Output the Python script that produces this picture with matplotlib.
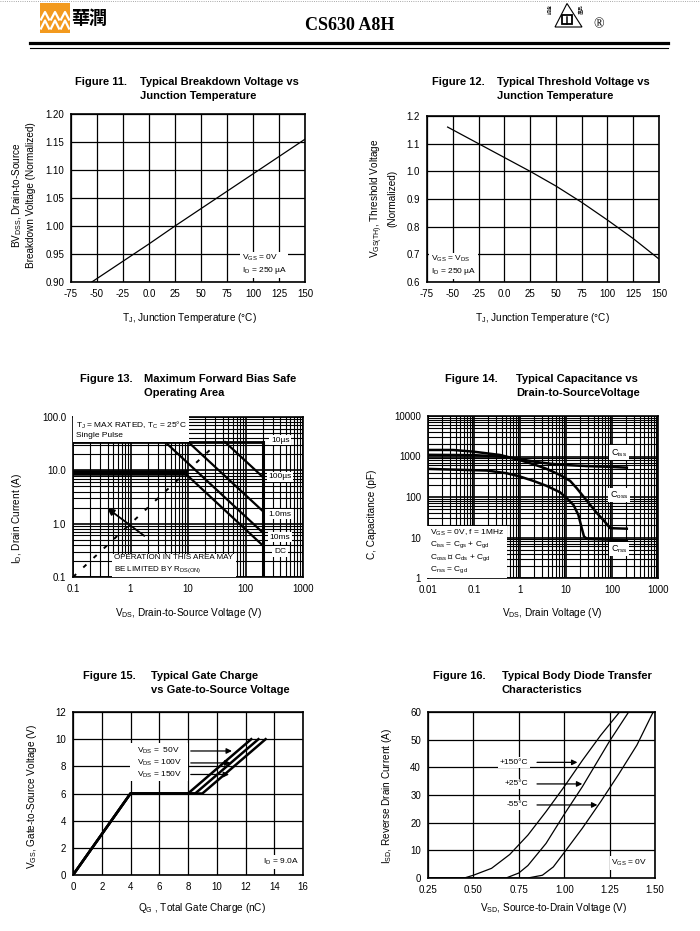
import matplotlib.pyplot as plt
from matplotlib.patches import Rectangle, Polygon
from matplotlib.ticker import NullFormatter
import numpy as np

plt.rcParams['font.family'] = ['Liberation Sans', 'DejaVu Sans']
plt.rcParams['mathtext.fontset'] = 'custom'
plt.rcParams['mathtext.rm'] = 'Liberation Sans'
plt.rcParams['mathtext.it'] = 'Liberation Sans:italic'
plt.rcParams['mathtext.bf'] = 'Liberation Sans:bold'

# ---------------- data ----------------
temp_ticks = [-75, -50, -25, 0, 25, 50, 75, 100, 125, 150]
temp_labels = ['-75', '-50', '-25', '0.0', '25', '50', '75', '100', '125', '150']

# Fig 11 - breakdown voltage
bv_t = [-55, 0, 25, 50, 75, 100, 125, 150]
bv_val = [0.900, 0.968, 1.000, 1.031, 1.062, 1.093, 1.124, 1.155]
bv_ticks = [0.90, 0.95, 1.00, 1.05, 1.10, 1.15, 1.20]

# Fig 12 - threshold voltage
vth_t = [-55, -25, 0, 25, 50, 75, 100, 125, 150]
vth_val = [1.16, 1.10, 1.05, 1.00, 0.947, 0.888, 0.824, 0.757, 0.683]
vth_ticks = [0.6, 0.7, 0.8, 0.9, 1.0, 1.1, 1.2]

# Fig 13 - SOA
soa_imax = 34
soa_vmax = 200
soa_dc_v = [0.1, 8.9, 200]
soa_dc_i = [8.8, 8.8, 0.39]
soa_10ms_v = [4.0, 200]
soa_10ms_i = [34, 0.68]
soa_1ms_v = [10.1, 200]
soa_1ms_i = [34, 1.72]
soa_100us_v = [44, 200]
soa_100us_i = [34, 7.5]
rds_v = [0.1, 28]
rds_i = [0.1, 28]
soa_labels = ['10µs', '100µs', '1.0ms', '10ms', 'DC']
soa_label_i = [37, 7.5, 1.5, 0.56, 0.3]
soa_xticks = [0.1, 1, 10, 100, 1000]
soa_xlabels = ['0.1', '1', '10', '100', '1000']
soa_yticks = [0.1, 1, 10, 100]
soa_ylabels = ['0.1', '1.0', '10.0', '100.0']

# Fig 14 - capacitance
ciss_v = [0.01, 0.1, 0.37, 1.0, 2.3, 4.7, 12, 28, 77, 210]
ciss_c = [1100, 1080, 1000, 860, 730, 660, 610, 580, 560, 530]
coss_v = [0.01, 0.035, 0.096, 0.37, 0.84, 1.95, 3.8, 7.4, 12.3, 17.1, 23.9, 33.5, 47, 65, 91, 210]
coss_c = [1450, 1450, 1320, 1090, 860, 645, 495, 350, 250, 165, 103, 64, 40, 27, 17, 16.5]
crss_v = [0.01, 0.19, 0.51, 1.0, 1.95, 3.8, 7.4, 10.3, 14.5, 18.6, 22, 24.6, 28.5, 210]
crss_c = [494, 450, 387, 320, 250, 188, 131, 94, 64, 36, 17, 10.6, 9.3, 8.5]
cap_xticks = [0.01, 0.1, 1, 10, 100, 1000]
cap_xlabels = ['0.01', '0.1', '1', '10', '100', '1000']
cap_yticks = [1, 10, 100, 1000, 10000]
cap_ylabels = ['1', '10', '100', '1000', '10000']

# Fig 15 - gate charge
qg_50 = [0, 4, 8.0, 12.4]
qg_100 = [0, 4, 8.5, 12.9]
qg_150 = [0, 4, 9.0, 13.4]
vgs_q = [0, 6, 6, 10]
vds_names = ['V$_{\\rm DS}$ =  50V', 'V$_{\\rm DS}$ = 100V', 'V$_{\\rm DS}$ = 150V']
vds_label_y = [9.13, 8.25, 7.4]
vds_arrow_x = [11.25, 11.15, 11.05]

# Fig 16 - body diode
t150_v = [0.25, 0.45, 0.50, 0.60, 0.70, 0.75, 0.80, 0.90, 1.00, 1.10, 1.20, 1.305]
t150_i = [0, 0, 1.0, 3.5, 8.5, 12, 15.5, 24, 33, 42.5, 51.5, 60]
t25_v = [0.25, 0.68, 0.75, 0.80, 0.90, 1.00, 1.10, 1.20, 1.25, 1.355]
t25_i = [0, 0, 1.8, 4.5, 12.5, 23, 33, 44, 49.5, 60]
t55_v = [0.25, 0.80, 0.88, 0.94, 1.00, 1.10, 1.20, 1.25, 1.30, 1.40, 1.49]
t55_i = [0, 0, 1.0, 4.0, 9.2, 18, 27.5, 32.5, 37.5, 48, 60]
temp_names = ['+150°C', '+25°C', '-55°C']
temp_label_y = [41.8, 34, 26.4]
temp_arrow_x = [1.088, 1.115, 1.198]
vsd_ticks = [0.25, 0.50, 0.75, 1.00, 1.25, 1.50]

W, H = 700, 931
fig = plt.figure(figsize=(7, 9.31), dpi=100)

# overlay in pixel coordinates for header / titles / labels
ov = fig.add_axes([0, 0, 1, 1])
ov.set_xlim(0, W)
ov.set_ylim(H, 0)
ov.axis('off')


def box(l, t, r, b):
    return [l / W, 1 - b / H, (r - l) / W, (b - t) / H]


# ---------------- header ----------------
ov.plot([0, W], [1, 1], color='0.55', lw=0.6, ls=':')
ov.add_patch(Rectangle((40, 3), 30, 30, fc='#F39A1E', ec='none'))
for yt, yb in [(12, 19.5), (20.5, 28.5)]:
    for cx in [45, 55, 65]:
        ov.plot([cx - 4, cx, cx + 4], [yb, yt, yb], color='white', lw=1.6)
ov.text(89, 18, '華潤', fontsize=13, family=['Noto Sans CJK TC'], fontweight='bold',
        ha='center', va='center')
ov.text(350, 25, 'CS630 A8H', family=['Liberation Serif'], fontweight='bold',
        fontsize=13, ha='center', va='center')
ov.add_patch(Polygon([(567, 3.5), (555, 27), (582, 27)], closed=True, fill=False, ec='k', lw=0.8))
ov.add_patch(Rectangle((562, 15), 10, 9, fill=False, ec='k', lw=1.3))
ov.plot([567, 567], [17, 24], color='k', lw=1.1)
ov.text(550, 9, '認證', fontsize=3.5, family=['Noto Sans CJK TC'], rotation=90, ha='center', va='center')
ov.text(581, 9, '產品', fontsize=3.5, family=['Noto Sans CJK TC'], rotation=90, ha='center', va='center')
ov.text(599, 25, '®', fontsize=10, family=['Liberation Serif'], ha='center', va='center')
ov.plot([30, 668], [43, 43], color='k', lw=2.3)
ov.plot([30, 668], [47.8, 47.8], color='k', lw=0.8)

# ---------------- titles ----------------
tkw = dict(fontsize=8, fontweight='bold', ha='left', va='center')
titles = [
    (75, 140, 82, 'Figure 11.', 'Typical Breakdown Voltage vs', 'Junction Temperature'),
    (432, 497, 82, 'Figure 12.', 'Typical Threshold Voltage vs', 'Junction Temperature'),
    (80, 144, 379, 'Figure 13.', 'Maximum Forward Bias Safe', 'Operating Area'),
    (445, 516, 379, 'Figure 14.', 'Typical Capacitance vs', 'Drain-to-SourceVoltage'),
    (83, 151, 676, 'Figure 15.', 'Typical Gate Charge', 'vs Gate-to-Source Voltage'),
    (433, 502, 676, 'Figure 16.', 'Typical Body Diode Transfer', 'Characteristics'),
]
for x0, x1, y0, a, b, c in titles:
    ov.text(x0, y0, a, **tkw)
    ov.text(x1, y0, b, **tkw)
    ov.text(x1, y0 + 14, c, **tkw)

lkw = dict(fontsize=7.2, ha='center', va='center')
ov.text(23, 195, 'BV$_{\\rm DSS}$, Drain-to-Source\nBreakdown Voltage (Normalized)',
        rotation=90, multialignment='center', linespacing=1.3, **lkw)
ov.text(383, 198, 'V$_{\\rm GS(TH)}$, Threshold Voltage\n(Normalized)',
        rotation=90, multialignment='center', linespacing=1.3, **lkw)
ov.text(17, 518, 'I$_{\\rm D}$, Drain Current (A)', rotation=90, **lkw)
ov.text(372, 514, 'C, Capacitance (pF)', rotation=90, **lkw)
ov.text(32, 796, 'V$_{\\rm GS}$, Gate-to-Source Voltage (V)', rotation=90, **lkw)
ov.text(387, 796, 'I$_{\\rm SD}$, Reverse Drain Current (A)', rotation=90, **lkw)

ov.text(189, 318, 'T$_{\\rm J}$, Junction Temperature (°C)', **lkw)
ov.text(542, 318, 'T$_{\\rm J}$, Junction Temperature (°C)', **lkw)
ov.text(189, 613, 'V$_{\\rm DS}$, Drain-to-Source Voltage (V)', **lkw)
ov.text(552, 613, 'V$_{\\rm DS}$, Drain Voltage (V)', **lkw)
ov.text(202, 908, 'Q$_{\\rm G}$ , Total Gate Charge (nC)', **lkw)
ov.text(554, 908, 'V$_{\\rm SD}$, Source-to-Drain Voltage (V)', **lkw)


def style(ax, minor=False):
    for s in ax.spines.values():
        s.set_linewidth(1.2)
    ax.tick_params(which='both', length=0, labelsize=7, pad=5)
    if minor:
        ax.grid(True, which='major', color='k', lw=1.2)
        ax.grid(True, which='minor', color='k', lw=0.8)
    else:
        ax.grid(True, color='k', lw=0.9)
    ax.set_axisbelow(True)


wbox = dict(fc='white', ec='none', pad=1.2)

# ---------------- Fig 11 ----------------
ax1 = fig.add_axes(box(71, 114, 305, 282))
ax1.plot(bv_t, bv_val, color='k', lw=0.9)
ax1.set_xlim(-75, 150)
ax1.set_ylim(0.9, 1.2)
ax1.set_xticks(temp_ticks)
ax1.set_xticklabels(temp_labels)
ax1.set_yticks(bv_ticks)
ax1.set_yticklabels(['%.2f' % v for v in bv_ticks])
style(ax1)
ax1.text(89, 0.931, 'V$_{\\rm GS}$ = 0V\nI$_{\\rm D}$ = 250 µA', fontsize=6, va='center',
         ha='left', linespacing=1.3, bbox=wbox, zorder=5)

# ---------------- Fig 12 ----------------
ax2 = fig.add_axes(box(427, 116, 659, 282))
ax2.plot(vth_t, vth_val, color='k', lw=0.9)
ax2.set_xlim(-75, 150)
ax2.set_ylim(0.6, 1.2)
ax2.set_xticks(temp_ticks)
ax2.set_xticklabels(temp_labels)
ax2.set_yticks(vth_ticks)
ax2.set_yticklabels(['%.1f' % v for v in vth_ticks])
style(ax2)
ax2.text(-71, 0.66, 'V$_{\\rm GS}$ = V$_{\\rm DS}$\nI$_{\\rm D}$ = 250 µA', fontsize=6, va='center',
         ha='left', linespacing=1.3, bbox=wbox, zorder=5)

# ---------------- Fig 13 ----------------
ax3 = fig.add_axes(box(73, 417, 303, 577))
ax3.set_xscale('log')
ax3.set_yscale('log')
ax3.set_xlim(0.1, 1000)
ax3.set_ylim(0.1, 100)
ax3.plot([0.1, soa_vmax], [soa_imax, soa_imax], color='k', lw=2)
ax3.plot([soa_vmax, soa_vmax], [soa_imax, 0.1], color='k', lw=2.2)
ax3.plot(soa_dc_v[:2], soa_dc_i[:2], color='k', lw=4)
ax3.plot(soa_dc_v[1:], soa_dc_i[1:], color='k', lw=1.6)
ax3.plot(soa_10ms_v, soa_10ms_i, color='k', lw=1.6)
ax3.plot(soa_1ms_v, soa_1ms_i, color='k', lw=1.6)
ax3.plot(soa_100us_v, soa_100us_i, color='k', lw=1.6)
ax3.plot(rds_v, rds_i, color='k', lw=1.4, ls=(0, (2.2, 5)), zorder=4)
ax3.annotate('', xy=(0.36, 2.1), xytext=(1.9, 0.55),
             arrowprops=dict(arrowstyle='-|>', color='k', lw=1.3, mutation_scale=10))
ax3.set_xticks(soa_xticks)
ax3.set_xticklabels(soa_xlabels)
ax3.set_yticks(soa_yticks)
ax3.set_yticklabels(soa_ylabels)
ax3.xaxis.set_minor_formatter(NullFormatter())
ax3.yaxis.set_minor_formatter(NullFormatter())
style(ax3, minor=True)
ax3.text(0.012, 0.985, 'T$_{\\rm J}$ = MAX RATED, T$_{\\rm C}$ = 25°C\nSingle Pulse',
         transform=ax3.transAxes, fontsize=6, va='top', ha='left', linespacing=1.35,
         bbox=dict(fc='white', ec='none', pad=2), zorder=5)
ax3.text(0.18, 0.015, 'OPERATION IN THIS AREA MAY\nBE LIMITED BY R$_{\\rm DS(ON)}$',
         transform=ax3.transAxes, fontsize=5.8, va='bottom', ha='left', linespacing=1.35,
         bbox=dict(fc='white', ec='none', pad=2), zorder=5)
for s, yv in zip(soa_labels, soa_label_i):
    ax3.text(400, yv, s, fontsize=6, ha='center', va='center', bbox=wbox, zorder=5)

# ---------------- Fig 14 ----------------
ax4 = fig.add_axes(box(428, 416, 658, 578))
ax4.set_xscale('log')
ax4.set_yscale('log')
ax4.set_xlim(0.01, 1000)
ax4.set_ylim(1, 10000)
ax4.plot(ciss_v, ciss_c, color='k', lw=1.8)
ax4.plot(coss_v, coss_c, color='k', lw=1.8)
ax4.plot(crss_v, crss_c, color='k', lw=1.8)
ax4.set_xticks(cap_xticks)
ax4.set_xticklabels(cap_xlabels)
ax4.set_yticks(cap_yticks)
ax4.set_yticklabels(cap_ylabels)
ax4.xaxis.set_minor_formatter(NullFormatter())
ax4.yaxis.set_minor_formatter(NullFormatter())
style(ax4, minor=True)
ax4.text(143, 1230, 'C$_{\\rm iss}$', fontsize=6.5, ha='center', va='center', bbox=wbox, zorder=5)
ax4.text(143, 112, 'C$_{\\rm oss}$', fontsize=6.5, ha='center', va='center', bbox=wbox, zorder=5)
ax4.text(143, 5.2, 'C$_{\\rm rss}$', fontsize=6.5, ha='center', va='center', bbox=wbox, zorder=5)
ax4.text(0.008, 0.31, 'V$_{\\rm GS}$ = 0V, f = 1MHz\nC$_{\\rm iss}$ = C$_{\\rm gs}$ + C$_{\\rm gd}$\n'
         'C$_{\\rm oss}$ ≅ C$_{\\rm ds}$ + C$_{\\rm gd}$\nC$_{\\rm rss}$ = C$_{\\rm gd}$',
         transform=ax4.transAxes, fontsize=6, va='top', ha='left', linespacing=1.25,
         bbox=dict(fc='white', ec='none', pad=2), zorder=5)

# ---------------- Fig 15 ----------------
ax5 = fig.add_axes(box(73, 712, 303, 875))
ax5.plot(qg_50, vgs_q, color='k', lw=1.8)
ax5.plot(qg_100, vgs_q, color='k', lw=1.8)
ax5.plot(qg_150, vgs_q, color='k', lw=1.8)
ax5.set_xlim(0, 16)
ax5.set_ylim(0, 12)
ax5.set_xticks(range(0, 17, 2))
ax5.set_yticks(range(0, 13, 2))
style(ax5)
ax5.add_patch(Rectangle((3.95, 6.9), 4.05, 2.8, fc='white', ec='none', zorder=1.5))
for s, yv, xa in zip(vds_names, vds_label_y, vds_arrow_x):
    ax5.text(4.45, yv, s, fontsize=6, ha='left', va='center', zorder=5)
    ax5.annotate('', xy=(xa, yv), xytext=(8.0, yv),
                 arrowprops=dict(arrowstyle='-|>', color='k', lw=0.9, mutation_scale=8))
ax5.text(13.2, 0.95, 'I$_{\\rm D}$ = 9.0A', fontsize=6, ha='left', va='center', bbox=wbox, zorder=5)

# ---------------- Fig 16 ----------------
ax6 = fig.add_axes(box(428, 712, 655, 878))
ax6.plot(t150_v, t150_i, color='k', lw=0.9)
ax6.plot(t25_v, t25_i, color='k', lw=0.9)
ax6.plot(t55_v, t55_i, color='k', lw=0.9)
ax6.set_xlim(0.25, 1.5)
ax6.set_ylim(0, 60)
ax6.set_xticks(vsd_ticks)
ax6.set_xticklabels(['%.2f' % v for v in vsd_ticks])
ax6.set_yticks(range(0, 61, 10))
style(ax6)
for s, yv, xa in zip(temp_names, temp_label_y, temp_arrow_x):
    ax6.text(0.80, yv, s, fontsize=6, ha='right', va='center', bbox=wbox, zorder=5)
    ax6.annotate('', xy=(xa, yv), xytext=(0.835, yv),
                 arrowprops=dict(arrowstyle='-|>', color='k', lw=0.9, mutation_scale=8))
ax6.text(1.26, 5.4, 'V$_{\\rm GS}$ = 0V', fontsize=6, ha='left', va='center', bbox=wbox, zorder=5)

fig.savefig('out.png', dpi=100)
